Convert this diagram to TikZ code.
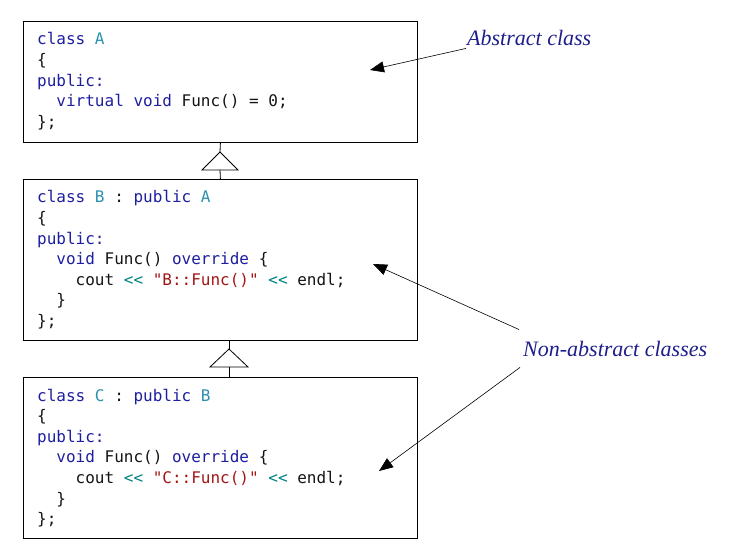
\documentclass[tikz,border=0pt]{standalone}
\usepackage{fontspec}
\setmainfont{Liberation Serif}
\newfontfamily\codefont{DejaVu Sans Mono}
\usetikzlibrary{arrows.meta}
\definecolor{kwc}{RGB}{30,30,160}
\definecolor{tyc}{RGB}{43,145,175}
\definecolor{opc}{RGB}{0,128,128}
\definecolor{strc}{RGB}{163,21,21}
\definecolor{labc}{RGB}{30,30,140}
\definecolor{txtc}{RGB}{20,20,20}
\newcommand\kw[1]{\textcolor{kwc}{#1}}
\newcommand\ty[1]{\textcolor{tyc}{#1}}
\newcommand\st[1]{\textcolor{strc}{#1}}
\newcommand\shl{\textcolor{opc}{<\kern0pt<}}
\begin{document}
\begin{tikzpicture}[x=1pt,y=-1pt,
  box/.style={draw, line width=0.8pt, minimum width=394pt, anchor=north west, inner sep=0pt},
  code/.style={anchor=base west, inner sep=0pt, font=\codefont\fontsize{16}{20.6}\selectfont, text=txtc},
  lbl/.style={anchor=base west, inner sep=0pt, font=\fontsize{22}{26}\selectfont\itshape, text=labc},
  arr/.style={-{Triangle[length=14pt,width=11pt]}, line width=0.6pt},
  inh/.style={line width=0.8pt}]
\useasboundingbox (0,0) rectangle (745,559);

% boxes
\node[box, minimum height=121pt] (A) at (23,21) {};
\node[box, minimum height=161pt] (B) at (23,179) {};
\node[box, minimum height=161pt] (C) at (23,377) {};

% code
\node[code] (Acode) at (37,45) {\begin{tabular}[t]{@{}l@{}}
\kw{class} \ty{A}\\
\{\\
\kw{public:}\\
\ \ \kw{virtual} \kw{void} Func() = 0;\\
\};
\end{tabular}};

\node[code] (Bcode) at (37,203) {\begin{tabular}[t]{@{}l@{}}
\kw{class} \ty{B} : \kw{public} \ty{A}\\
\{\\
\kw{public:}\\
\ \ \kw{void} Func() \kw{override} \{\\
\ \ \ \ cout \shl{} \st{"B::Func()"} \shl{} endl;\\
\ \ \}\\
\};
\end{tabular}};

\node[code] (Ccode) at (37,401) {\begin{tabular}[t]{@{}l@{}}
\kw{class} \ty{C} : \kw{public} \ty{B}\\
\{\\
\kw{public:}\\
\ \ \kw{void} Func() \kw{override} \{\\
\ \ \ \ cout \shl{} \st{"C::Func()"} \shl{} endl;\\
\ \ \}\\
\};
\end{tabular}};

% inheritance triangles
\coordinate (t1) at (220,152);
\coordinate (t1b) at (220,170);
\draw[inh] (A.south) -- (t1);
\draw[inh, fill=white] (t1) -- ++(18,18) -- ++(-36,0) -- cycle;
\draw[inh] (t1b) -- (B.north);

\coordinate (t2) at (229,349);
\coordinate (t2b) at (229,367);
\draw[inh] (t2 |- B.south) -- (t2);
\draw[inh, fill=white] (t2) -- ++(19,18) -- ++(-38,0) -- cycle;
\draw[inh] (t2b) -- (t2b |- C.north);

% labels
\node[lbl] (labA) at (467,46) {Abstract class};
\node[lbl] (labN) at (523,356) {Non-abstract classes};

% annotation arrows
\coordinate (tipA) at (370,70);
\coordinate (tipB) at (373,264);
\coordinate (tipC) at (379,471);
\draw[arr] ([xshift=-1pt,yshift=-2pt]labA.south west) -- (tipA);
\draw[arr] ([xshift=-4pt,yshift=11pt]labN.north west) -- (tipB);
\draw[arr] ([xshift=-3pt,yshift=-11pt]labN.south west) -- (tipC);
\end{tikzpicture}
\end{document}
